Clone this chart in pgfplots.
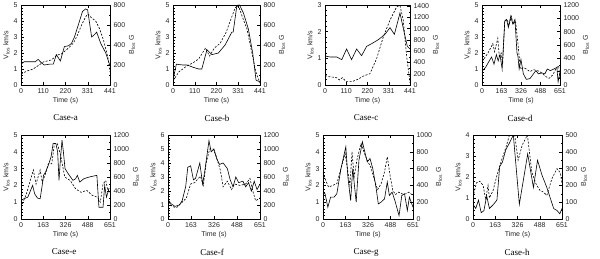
\documentclass[border=0pt]{standalone}
\usepackage{fontspec}
\setmainfont{Liberation Sans}
\newfontfamily\seriffont{Liberation Serif}
\usepackage{pgfplots}
\pgfplotsset{compat=1.18}
\definecolor{txt}{gray}{0.15}
\pgfplotsset{
  base/.style={scale only axis, anchor=south west, tick align=inside,
    major tick length=3pt, minor tick length=1.5pt,
    every tick/.style={black, line width=0.4pt},
    axis line style={line width=0.5pt},
    /pgf/number format/assume math mode=true,
    /pgf/number format/1000 sep={},
    ticklabel style={font=\fontsize{7}{8}\selectfont, text=txt},
    label style={font=\fontsize{7}{8}\selectfont, text=txt},
    xmin=0, ymin=0, enlargelimits=false, clip=true},
  L/.style={base, ytick pos=left, xtick pos=both, xlabel={Time (s)},
    ylabel={V\textsubscript{los} km/s}, minor x tick num=4, minor y tick num=4,
    xlabel style={yshift=3pt}, ylabel style={yshift=-3pt}},
  R/.style={base, axis x line=none, axis y line*=right, ytick pos=right,
    ylabel={B\textsubscript{los} G}, minor y tick num=1,
    ylabel style={yshift=3pt}},
  vl/.style={black, line width=0.6pt, no marks},
  bl/.style={black, line width=0.6pt, no marks, dash pattern=on 2pt off 1.5pt},
  xa/.style={xmax=441, xtick={0,110,220,331,441}},
  xb/.style={xmax=651, xtick={0,163,326,488,651}},
}
\begin{document}
\begin{tikzpicture}
\path[use as bounding box] (0,0) rectangle (600pt,-259pt);
% ---------- Case-a
\begin{axis}[L, xa, at={(21pt,-85pt)}, width=89pt, height=80pt, ymax=5, ytick={0,...,5}]
\addplot[vl] coordinates {(0,1.3)(15,1.45)(40,1.45)(70,1.45)(85,1.6)(100,1.4)(115,1.25)(140,1.3)(160,1.3)(175,1.9)(195,1.5)(215,2.4)(235,2.45)(250,2.6)(265,3.0)(290,4.0)(305,4.6)(320,4.75)(330,4.7)(350,3.0)(360,3.1)(375,3.3)(395,2.6)(420,2.0)(441,1.2)};
\end{axis}
\begin{axis}[R, xa, at={(21pt,-85pt)}, width=89pt, height=80pt, ymax=800, ytick={0,200,...,800}]
\addplot[bl] coordinates {(0,110)(30,140)(60,160)(90,200)(110,230)(130,240)(150,250)(180,300)(200,310)(230,360)(260,420)(280,500)(300,600)(320,680)(331,710)(345,680)(370,640)(390,560)(410,440)(430,280)(441,130)};
\end{axis}
\node[font=\seriffont\fontsize{9}{10}\selectfont] at (65.5pt,-118pt) {Case-a};
% ---------- Case-b
\begin{axis}[L, xa, at={(173pt,-85pt)}, width=87pt, height=80pt, ymax=5, ytick={0,...,5}]
\addplot[vl] coordinates {(0,0.3)(17,1.3)(50,1.25)(71,1.25)(104,1.1)(130,1.0)(146,1.0)(172,2.2)(197,1.9)(230,2.0)(264,2.5)(298,3.3)(305,3.3)(323,4.9)(337,5.0)(357,4.5)(382,3.5)(404,2.0)(421,0.3)(441,0.2)};
\end{axis}
\begin{axis}[R, xa, at={(173pt,-85pt)}, width=87pt, height=80pt, ymax=800, ytick={0,200,...,800}]
\addplot[bl] coordinates {(0,40)(29,130)(70,190)(100,220)(130,260)(165,370)(185,290)(210,370)(240,420)(270,530)(290,640)(315,770)(330,800)(350,690)(375,560)(400,320)(420,130)(441,20)};
\end{axis}
\node[font=\seriffont\fontsize{9}{10}\selectfont] at (217pt,-118pt) {Case-b};
% ---------- Case-c
\begin{axis}[L, xa, at={(325pt,-85pt)}, width=85pt, height=80pt, ymax=3, ytick={0,...,3}]
\addplot[vl] coordinates {(0,1.09)(26,1.05)(61,1.05)(87,0.95)(112,1.35)(138,0.95)(164,1.35)(190,1.1)(216,1.45)(242,1.55)(277,1.7)(311,1.9)(337,2.15)(360,1.9)(389,2.7)(410,2.0)(427,1.45)(441,1.35)};
\end{axis}
\begin{axis}[R, xa, at={(325pt,-85pt)}, width=85pt, height=80pt, ymax=1420, ytick={0,200,...,1400}]
\addplot[bl] coordinates {(0,170)(17,150)(60,130)(75,90)(90,130)(110,60)(140,60)(170,100)(200,160)(233,200)(268,470)(303,860)(337,1150)(372,1390)(389,1410)(406,1150)(424,500)(441,40)};
\end{axis}
\node[font=\seriffont\fontsize{9}{10}\selectfont] at (366pt,-118pt) {Case-c};
% ---------- Case-d
\begin{axis}[L, xb, at={(482pt,-85pt)}, width=78pt, height=80pt, ymax=5, ytick={0,...,5}]
\addplot[vl] coordinates {(0,0.85)(30,1.1)(60,1.5)(80,1.75)(100,1.3)(120,1.9)(135,1.5)(150,1.9)(168,1.0)(190,4.0)(205,4.1)(220,3.6)(240,4.3)(258,3.8)(275,4.1)(292,2.0)(300,1.8)(310,1.0)(325,1.6)(345,0.7)(370,0.35)(400,0.4)(430,0.7)(450,0.9)(470,0.7)(500,0.75)(525,0.7)(545,1.0)(570,0.9)(600,1.0)(625,1.1)(635,0.2)(651,0.8)};
\end{axis}
\begin{axis}[R, xb, at={(482pt,-85pt)}, width=78pt, height=80pt, ymax=1200, ytick={0,200,...,1200}]
\addplot[bl] coordinates {(0,350)(50,480)(90,620)(105,500)(132,700)(145,410)(160,480)(172,310)(190,960)(210,985)(225,890)(245,1030)(260,910)(280,960)(300,620)(320,240)(345,260)(370,240)(400,200)(430,230)(470,210)(500,180)(530,130)(560,100)(590,150)(620,250)(640,290)(651,70)};
\end{axis}
\node[font=\seriffont\fontsize{9}{10}\selectfont] at (520pt,-118pt) {Case-d};
% ---------- Case-e
\begin{axis}[L, xb, at={(21pt,-219pt)}, width=89pt, height=84pt, ymax=5, ytick={0,...,5}]
\addplot[vl] coordinates {(0,1.1)(20,1.2)(50,1.3)(70,1.7)(85,2.0)(100,1.5)(120,1.25)(140,1.2)(155,2.0)(165,2.6)(180,2.8)(200,3.2)(220,3.7)(235,4.5)(255,4.5)(268,4.0)(278,2.3)(288,3.5)(300,4.7)(310,4.0)(322,3.0)(345,2.7)(380,2.3)(400,2.4)(412,2.6)(430,2.2)(460,2.4)(500,2.5)(555,2.6)(570,0.7)(600,0.7)(612,2.0)(625,1.3)(640,1.7)(651,1.6)};
\end{axis}
\begin{axis}[R, xb, at={(21pt,-219pt)}, width=89pt, height=84pt, ymax=1200, ytick={0,200,...,1200}]
\addplot[bl] coordinates {(0,170)(40,360)(90,700)(110,500)(140,700)(155,530)(175,620)(200,790)(225,790)(245,1080)(265,1080)(290,910)(320,600)(360,550)(400,430)(440,380)(480,410)(520,340)(560,310)(580,240)(600,500)(620,550)(635,410)(651,460)};
\end{axis}
\node[font=\seriffont\fontsize{9}{10}\selectfont] at (64pt,-252pt) {Case-e};
% ---------- Case-f
\begin{axis}[L, xb, at={(168pt,-219pt)}, width=92pt, height=84pt, ymax=6, ytick={0,...,6}]
\addplot[vl] coordinates {(0,1.4)(20,1.1)(50,0.9)(80,1.0)(100,1.3)(125,2.3)(140,3.7)(160,3.8)(180,2.8)(195,2.9)(225,4.0)(245,2.5)(260,3.4)(275,4.5)(290,5.6)(305,4.8)(325,5.0)(345,4.3)(365,3.9)(390,4.0)(420,3.6)(440,2.8)(460,2.3)(480,3.0)(500,2.6)(530,2.7)(550,2.3)(570,2.6)(590,2.0)(610,2.7)(630,2.1)(651,2.5)};
\end{axis}
\begin{axis}[R, xb, at={(168pt,-219pt)}, width=92pt, height=84pt, ymax=1200, ytick={0,200,...,1200}]
\addplot[bl] coordinates {(0,240)(30,180)(60,160)(90,220)(130,300)(160,500)(190,520)(210,570)(230,610)(250,480)(270,800)(295,1000)(320,1000)(340,900)(370,700)(390,460)(420,540)(450,420)(470,500)(510,480)(550,500)(580,580)(600,400)(620,260)(651,300)};
\end{axis}
\node[font=\seriffont\fontsize{9}{10}\selectfont] at (212pt,-252pt) {Case-f};
% ---------- Case-g
\begin{axis}[L, xb, at={(323pt,-219pt)}, width=90pt, height=84pt, ymax=5, ytick={0,...,5}]
\addplot[vl] coordinates {(0,1.6)(15,1.5)(35,0.7)(55,1.3)(80,1.3)(100,1.5)(130,3.0)(165,4.3)(180,2.5)(200,1.1)(215,3.0)(240,1.0)(260,3.5)(285,4.6)(305,3.9)(320,3.4)(340,3.6)(360,3.0)(385,1.8)(400,0.9)(420,1.0)(445,1.2)(465,2.2)(480,1.4)(500,1.6)(520,1.1)(550,0.2)(570,1.4)(590,1.5)(610,0.5)(625,1.3)(651,0.7)};
\end{axis}
\begin{axis}[R, xb, at={(323pt,-219pt)}, width=90pt, height=84pt, ymax=1000, ytick={0,200,...,1000}]
\addplot[bl] coordinates {(0,560)(20,460)(40,380)(70,400)(100,420)(130,600)(160,780)(180,560)(195,400)(210,800)(225,500)(245,700)(275,900)(300,780)(325,680)(345,620)(370,480)(395,350)(420,420)(445,560)(465,740)(485,520)(505,340)(525,290)(545,320)(570,300)(600,300)(620,320)(651,280)};
\end{axis}
\node[font=\seriffont\fontsize{9}{10}\selectfont] at (366pt,-252pt) {Case-g};
% ---------- Case-h
\begin{axis}[L, xb, at={(473pt,-219pt)}, width=89pt, height=84pt, ymax=4, ytick={0,...,4}]
\addplot[vl] coordinates {(0,0.7)(20,0.5)(40,0.9)(60,0.3)(80,0.4)(100,1.1)(120,0.5)(150,0.7)(175,0.9)(195,2.5)(215,2.7)(240,3.3)(265,3.6)(295,4.0)(339,0.7)(400,3.1)(442,1.5)(472,2.8)(504,2.1)(540,1.5)(565,1.0)(590,0.5)(615,0.4)(635,0.25)(651,0.5)};
\end{axis}
\begin{axis}[R, xb, at={(473pt,-219pt)}, width=89pt, height=84pt, ymax=500, ytick={0,100,...,500}]
\addplot[bl] coordinates {(0,130)(25,215)(49,225)(74,200)(93,115)(110,200)(120,125)(147,170)(172,250)(209,350)(246,440)(270,510)(300,530)(330,350)(360,440)(398,500)(430,280)(460,210)(490,170)(516,160)(540,140)(577,240)(614,300)(639,275)(651,210)};
\end{axis}
\node[font=\seriffont\fontsize{9}{10}\selectfont] at (517pt,-252pt) {Case-h};
\end{tikzpicture}
\end{document}
